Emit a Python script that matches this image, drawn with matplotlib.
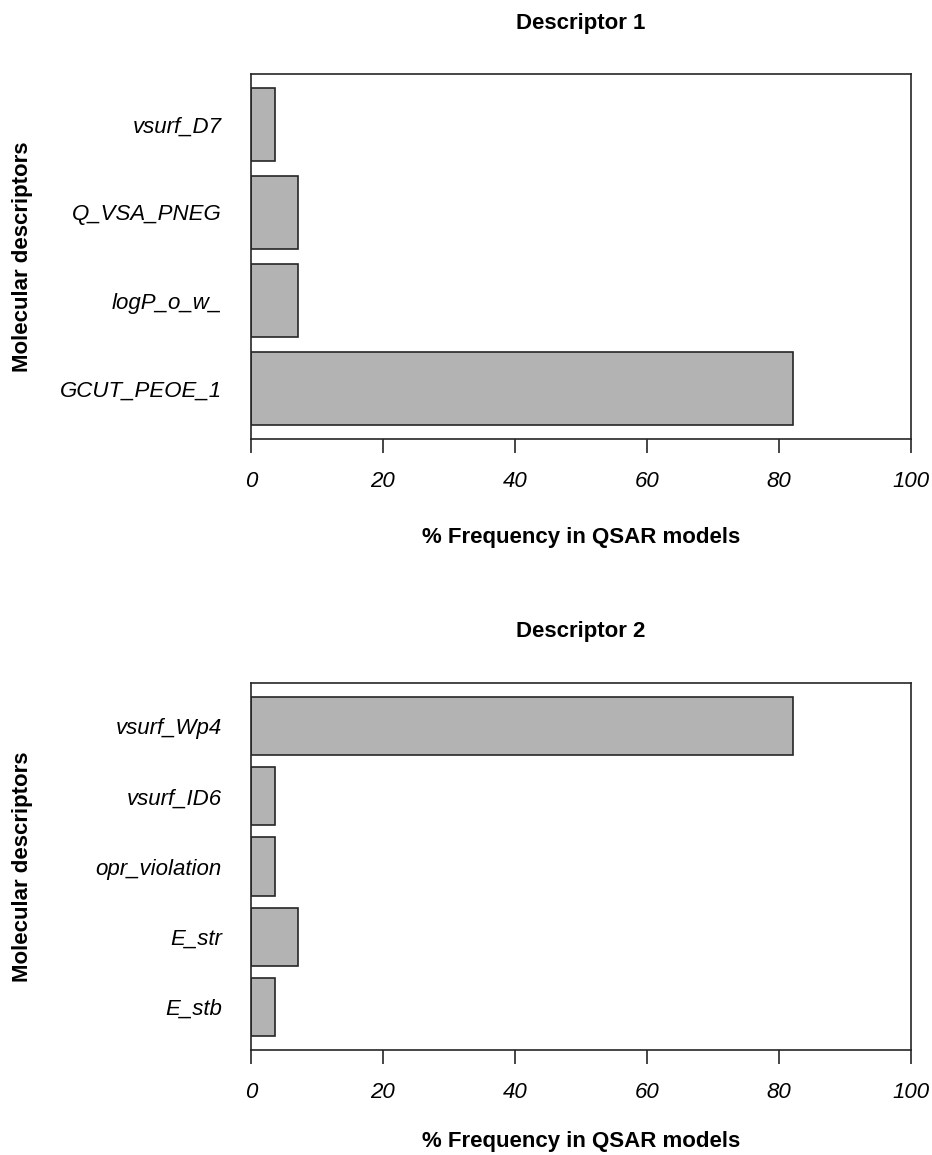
import matplotlib
matplotlib.use("Agg")
import matplotlib.pyplot as plt

plt.rcParams['font.family'] = ['Liberation Sans', 'DejaVu Sans']

# Data (percent frequency in QSAR models), bottom-to-top order as drawn
desc1_names = ["GCUT_PEOE_1", "logP_o_w_", "Q_VSA_PNEG", "vsurf_D7"]
desc1_values = [82.14, 7.14, 7.14, 3.57]

desc2_names = ["E_stb", "E_str", "opr_violation", "vsurf_ID6", "vsurf_Wp4"]
desc2_values = [3.57, 7.14, 3.57, 3.57, 82.14]

titles = ["Descriptor 1", "Descriptor 2"]
xlabel = "% Frequency in QSAR models"
ylabel = "Molecular descriptors"
xticks = [0, 20, 40, 60, 80, 100]

W, H = 932, 1155
DPI = 100
fig = plt.figure(figsize=(W / DPI, H / DPI), dpi=DPI)

def px_axes(left, top, right, bottom):
    return fig.add_axes([left / W, 1 - bottom / H, (right - left) / W, (bottom - top) / H])

panels = [
    (desc1_names, desc1_values, titles[0], (251, 74, 911, 439), 23, 537),
    (desc2_names, desc2_values, titles[1], (251, 683, 911, 1050), 632, 1141),
]

FS = 16
for names, values, title, (l, t, r, b), title_y, xlab_y in panels:
    ax = px_axes(l, t, r, b)
    n = len(values)
    width, space = 1.0, 0.2
    centers = [space + i * (width + space) + width / 2 for i in range(n)]
    ax.barh(centers, values, height=width, color="#b3b3b3",
            edgecolor="#262626", linewidth=1.2)
    lo, hi = space, n * (width + space)
    ext = 0.04 * (hi - lo)
    ax.set_ylim(lo - ext, hi + ext)
    ax.set_xlim(0, 100)
    ax.set_xticks(xticks)
    ax.set_xticklabels([str(v) for v in xticks], fontstyle="italic", fontsize=FS)
    ax.set_yticks(centers)
    ax.set_yticklabels(names, fontstyle="italic", fontsize=FS)
    ax.tick_params(axis="x", length=10, width=1.2, color="#262626", pad=13)
    ax.tick_params(axis="y", length=0, pad=21)
    for s in ax.spines.values():
        s.set_linewidth(1.2)
        s.set_color("#262626")
    cx = (l + r) / 2
    fig.text(cx / W, 1 - title_y / H, title, ha="center", va="center",
             fontsize=FS, fontweight="bold")
    fig.text(cx / W, 1 - xlab_y / H, xlabel, ha="center", va="center",
             fontsize=FS, fontweight="bold")
    fig.text(23 / W, 1 - ((t + b) / 2) / H, ylabel, ha="center", va="center",
             rotation=90, fontsize=FS, fontweight="bold")

fig.savefig("out.png", dpi=DPI, facecolor="white")
